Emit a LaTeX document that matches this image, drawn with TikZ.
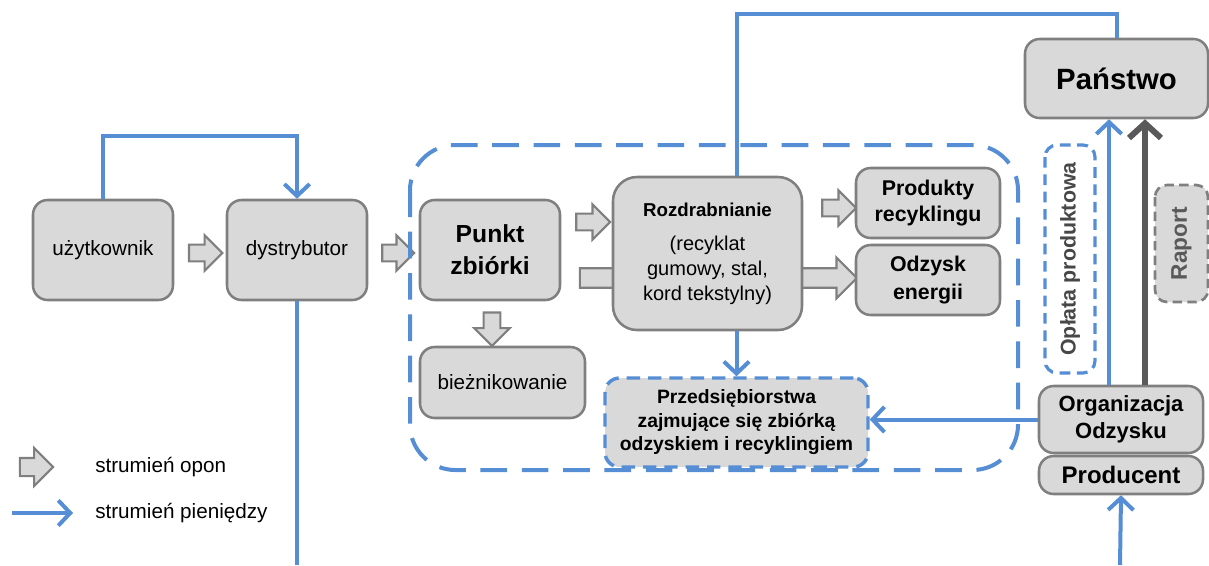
\documentclass[tikz,border=0pt]{standalone}
\usepackage{fontspec}
\setmainfont{Liberation Sans}
\usetikzlibrary{shapes.arrows,arrows.meta}
\definecolor{moneyblue}{RGB}{85,142,213}
\definecolor{boxfill}{RGB}{217,217,217}
\definecolor{boxline}{RGB}{127,127,127}
\definecolor{reportgray}{RGB}{89,89,89}
\begin{document}
\begin{tikzpicture}[x=0.75pt,y=-0.75pt,font=\fontsize{15.5}{18.5}\selectfont]
    \tikzset{>={Straight Barb[length=9pt,width=19pt]},
      box/.style={draw=boxline,fill=boxfill,line width=1.9pt,rounded corners=11pt,align=center,inner sep=2pt},
      tyre/.style={single arrow,draw=boxline,fill=boxfill,line width=1.6pt,inner xsep=0pt,inner ysep=5.5pt,single arrow head extend=7pt},
      money/.style={draw=moneyblue,line width=3pt}}
    \useasboundingbox (0,0) rectangle (1209,565);
    \node[box,minimum width=105pt,minimum height=75pt] (user) at (103,250) {użytkownik};
    \node[box,minimum width=105pt,minimum height=75pt] (distributor) at (297,250) {dystrybutor};
    \node[tyre,minimum height=25pt] (t1) at (201.5,253) {};
    \node[tyre,minimum height=24pt] (t2) at (394,253) {};
    \draw[moneyblue,line width=3pt,dash pattern=on 20pt off 11pt,rounded corners=34pt] (410,145) rectangle (1018,470);
    \node[box,minimum width=105pt,minimum height=75pt,font=\bfseries\fontsize{18.5}{24}\selectfont] (collect) at (490,250) {Punkt\\zbiórki};
    \node[tyre,minimum height=207.75pt,inner ysep=6.5pt,single arrow head extend=8pt] (t4) at (713.5,278) {};
    \node[tyre,minimum height=25.5pt] (t3) at (589,222) {};
    \node[box,rounded corners=18pt,minimum width=141.75pt,minimum height=114.75pt,font=\fontsize{15}{18.75}\selectfont] (shred) at (707.5,253.5)
      {{\bfseries\fontsize{14}{17}\selectfont Rozdrabnianie}\\[7pt](recyklat\\gumowy, stal,\\kord tekstylny)};
    \node[tyre,minimum height=25.5pt] (t5) at (835,208) {};
    \node[box,minimum width=108pt,minimum height=52.5pt,font=\bfseries\fontsize{16}{19.5}\selectfont] (products) at (928,203) {Produkty\\recyklingu};
    \node[box,minimum width=108pt,minimum height=52.5pt,font=\bfseries\fontsize{16}{21}\selectfont] (energy) at (928,280) {Odzysk\\energii};
    \node[tyre,shape border rotate=270,inner xsep=5.5pt,inner ysep=0pt,minimum height=25pt] (t6) at (492,325) {};
    \node[box,minimum width=123.75pt,minimum height=53.25pt] (retread) at (502.5,382.5) {bieżnikowanie};
    \node[box,draw=moneyblue,dash pattern=on 10pt off 6pt,line width=2.6pt,minimum width=197.25pt,minimum height=66.75pt,font=\bfseries\fontsize{14.5}{17.6}\selectfont] (firms) at (736.5,422.5)
      {Przedsiębiorstwa\\zajmujące się zbiórką\\odzyskiem i recyklingiem};
    \node[box,minimum width=137.25pt,minimum height=59.25pt,font=\bfseries\fontsize{22}{26}\selectfont] (state) at (1116.5,78.5) {Państwo};
    \node[box,minimum width=123pt,minimum height=50.25pt,font=\bfseries\fontsize{16.5}{20}\selectfont] (recovery) at (1121,419.5) {Organizacja\\Odzysku};
    \node[box,minimum width=123pt,minimum height=28.5pt,inner sep=0pt,font=\bfseries\fontsize{18}{21}\selectfont] (producer) at (1121,475) {Producent};
    \node[draw=moneyblue,line width=2.4pt,dash pattern=on 8pt off 5pt,rounded corners=9pt,rotate=90,minimum width=171pt,minimum height=37.5pt,text=reportgray!80!black,font=\bfseries\fontsize{16}{19}\selectfont] (fee) at (1070,259) {Opłata produktowa};
    \node[box,draw=boxline,line width=2pt,dash pattern=on 7pt off 4pt,rounded corners=9pt,rotate=90,minimum width=87.75pt,minimum height=39.75pt,text=reportgray,font=\bfseries\fontsize{17}{20}\selectfont] (report) at (1181.5,243.5) {Raport};
    \coordinate (bottomleft) at (297,565);
    \coordinate (bottomright) at (1120,565);
    \draw[money,->] (user.north) -- ++(0,-63) -| (distributor.north);
    \draw[money] (distributor.south) -- (bottomleft);
    \draw[money] (state.north) -- ++(0,-24) -| (firms.north |- shred.north);
    \draw[money,->] (firms.north |- shred.south) -- (firms.north);
    \draw[money,->] (recovery.west) -- (recovery.west -| firms.east);
    \draw[money,->] ([xshift=-9pt]recovery.north) -- ([xshift=-9pt]recovery.north |- state.south);
    \draw[reportgray,line width=4.5pt,-{Straight Barb[length=11pt,width=24pt]}] ([xshift=18pt]recovery.north) -- ([xshift=18pt]recovery.north |- state.south);
    \draw[money,->] (bottomright) -- (producer.south);
    \node[tyre,minimum height=25pt,inner ysep=6pt,single arrow head extend=7.5pt] (legtyre) at (32,467) {};
    \node[anchor=west,inner sep=0pt] (legtyretext) at (95,467) {strumień opon};
    \coordinate (legmoneystart) at (12,513);
    \coordinate (legmoneyend) at (73,513);
    \draw[money,->] (legmoneystart) -- (legmoneyend);
    \node[anchor=west,inner sep=0pt] (legmoneytext) at (95,513) {strumień pieniędzy};
\end{tikzpicture}
\end{document}
